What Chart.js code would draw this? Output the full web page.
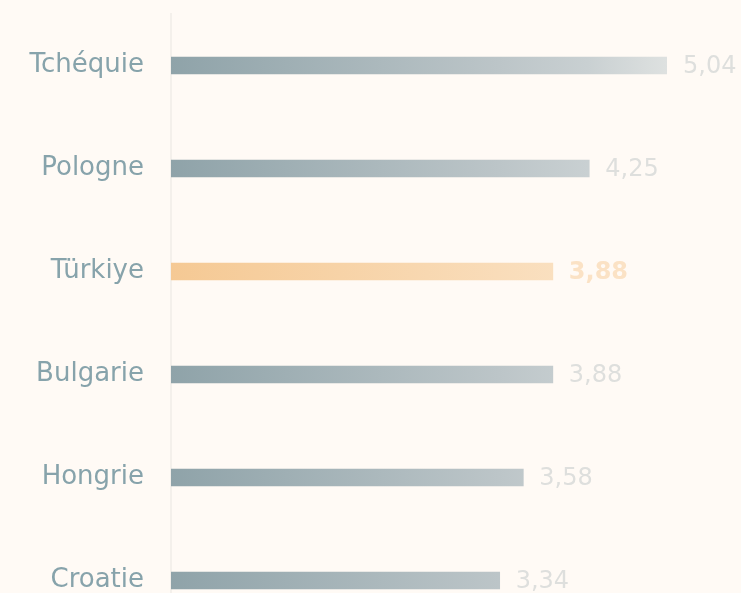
<!DOCTYPE html>
<html>
<head>
<meta charset="utf-8">
<script src="https://cdn.jsdelivr.net/npm/chart.js@4"></script>
<style>
  html, body { margin: 0; padding: 0; background: #fffaf5; overflow: hidden; }
  canvas { display: block; }
</style>
</head>
<body>
<canvas id="chart" width="741" height="640"></canvas>
<script>
// Data
const countries = ['Tchéquie', 'Pologne', 'Türkiye', 'Bulgarie', 'Hongrie', 'Croatie'];
const values = [5.04, 4.25, 3.88, 3.88, 3.58, 3.34];
const highlighted = 'Türkiye';

const FONT = "'DejaVu Sans', sans-serif";

function barFill(context) {
  const chart = context.chart;
  const area = chart.chartArea;
  if (!area) return '#8fa3a9';
  const ctx = chart.ctx;
  const g = ctx.createLinearGradient(area.left, 0, area.right, 0);
  if (countries[context.dataIndex] === highlighted) {
    g.addColorStop(0, '#f5c994');
    g.addColorStop(1, '#fbe6cc');
  } else {
    g.addColorStop(0, '#8fa3a9');
    g.addColorStop(0.66, '#bcc5c8');
    g.addColorStop(0.84, '#c9d0d2');
    g.addColorStop(1, '#dee1e0');
  }
  return g;
}

// Draws the value next to the end of each bar
const valueLabels = {
  id: 'valueLabels',
  afterDatasetsDraw(chart) {
    const ctx = chart.ctx;
    const meta = chart.getDatasetMeta(0);
    ctx.save();
    ctx.textBaseline = 'middle';
    ctx.textAlign = 'left';
    meta.data.forEach((bar, i) => {
      const hl = countries[i] === highlighted;
      ctx.font = (hl ? 'bold ' : '') + '24px ' + FONT;
      ctx.fillStyle = hl ? '#fbe2c5' : '#dedfdd';
      ctx.fillText(values[i].toFixed(2).replace('.', ','), bar.x + 16, bar.y + 1);
    });
    ctx.restore();
  }
};

const chart = new Chart(document.getElementById('chart'), {
  type: 'bar',
  data: {
    labels: countries,
    datasets: [{
      data: values,
      backgroundColor: barFill,
      barThickness: 17,
      borderWidth: 0
    }]
  },
  options: {
    indexAxis: 'y',
    responsive: false,
    animation: false,
    layout: { padding: { top: 14, bottom: 8, right: 74, left: 0 } },
    plugins: {
      legend: { display: false },
      tooltip: { enabled: false }
    },
    scales: {
      x: {
        display: false,
        min: 0,
        max: 5.04
      },
      y: {
        afterFit(scale) {
          scale.width = 171;
          scale.paddingTop = 0;
          scale.paddingBottom = 0;
        },
        grid: { display: false, drawTicks: false },
        border: { display: true, color: '#f4f0eb', width: 2 },
        ticks: {
          color: '#87a3ab',
          padding: 27,
          font: { family: FONT, size: 26 }
        }
      }
    }
  },
  plugins: [valueLabels]
});
</script>
</body>
</html>
